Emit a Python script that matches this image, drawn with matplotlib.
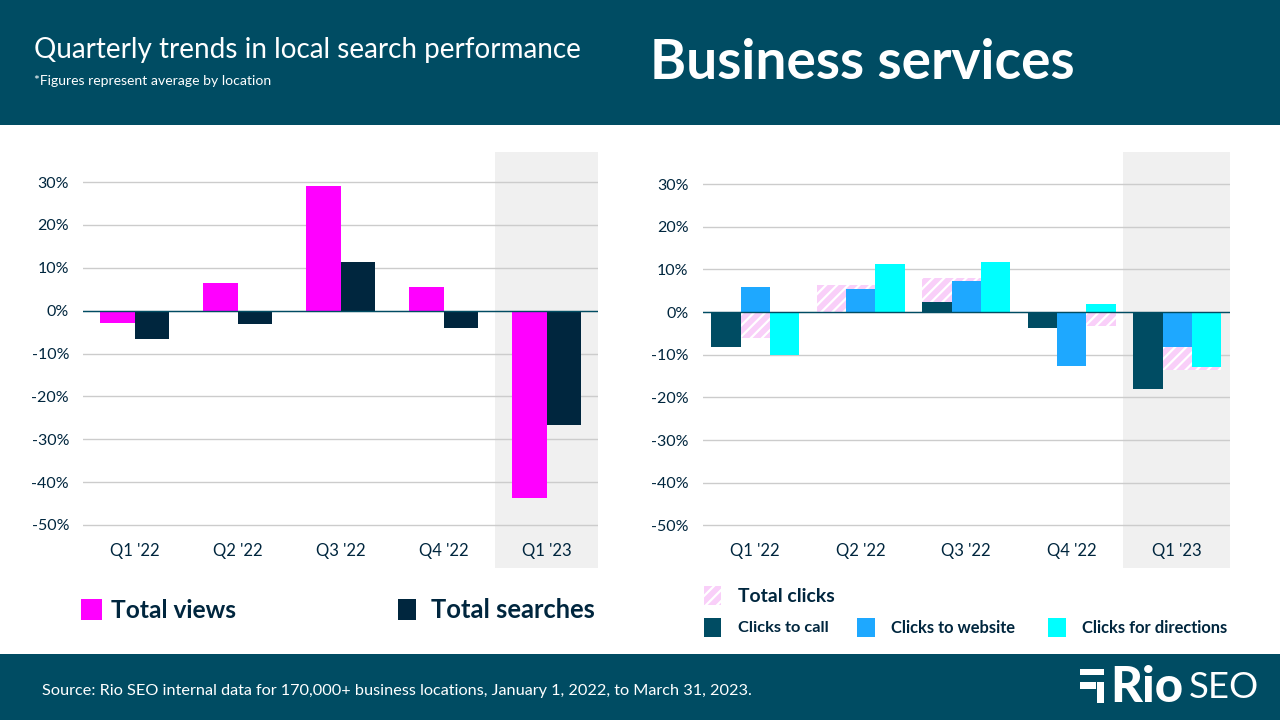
import matplotlib
matplotlib.use("Agg")
import matplotlib.pyplot as plt
from matplotlib.patches import Rectangle
import numpy as np

quarters = ["Q1 '22", "Q2 '22", "Q3 '22", "Q4 '22", "Q1 '23"]
y_ticks = [30, 20, 10, 0, -10, -20, -30, -40, -50]
total_views = [-2.9, 6.5, 29.1, 5.6, -43.6]
total_searches = [-6.6, -3.1, 11.3, -4.0, -26.6]
total_clicks = [-6.0, 6.4, 8.0, -3.2, -13.5]
clicks_call = [-8.1, -0.3, 2.4, -3.7, -18.1]
clicks_website = [5.9, 5.4, 7.3, -12.7, -8.3]
clicks_directions = [-10.1, 11.3, 11.8, 1.9, -12.9]

TEAL = "#004C63"; NAVY = "#00263E"; PINK = "#FF00FF"; BLUE = "#1EA8FF"; CYAN = "#00FFFF"
HATCH_BG = "#F9CFF9"; BAND = "#F0F0F0"; GRID = "#CCCCCC"; TXT = "#00263E"
FONT = "Lato"
W, H = 1280, 720
plt.rcParams["font.family"] = [FONT, "DejaVu Sans"]
plt.rcParams["hatch.linewidth"] = 1.6

fig = plt.figure(figsize=(12.8, 7.2), dpi=100, facecolor="white")

def fx(x): return x / W
def fy(y): return 1 - y / H

def box(x0, y0, x1, y1, color, **kw):
    r = Rectangle((fx(x0), fy(y1)), (x1 - x0) / W, (y1 - y0) / H, transform=fig.transFigure,
                  facecolor=color, linewidth=0, **kw)
    fig.add_artist(r)
    return r

def label(x, y, s, width=None, size=12, color=TXT, weight="normal", ha="left"):
    t = fig.text(fx(x), fy(y), s, fontsize=size, color=color, fontweight=weight, ha=ha, va="center")
    if width:
        r = fig.canvas.get_renderer()
        t.set_fontsize(size * width / t.get_window_extent(r).width)
    return t

box(0, 0, W, 125, TEAL)
box(0, 654, W, H, TEAL)

def make_axes(x0, x1, y0, y1, ylim, band_start):
    ax = fig.add_axes([fx(x0), fy(y1), (x1 - x0) / W, (y1 - y0) / H])
    ax.set_xlim(-0.5, 4.5)
    ax.set_ylim(*ylim)
    for s in ax.spines.values():
        s.set_visible(False)
    ax.axvspan(band_start, 4.5, color=BAND, lw=0, zorder=0)
    ax.set_yticks(y_ticks)
    ax.set_yticklabels([f"{v}%" for v in y_ticks])
    ax.set_xticks(range(5))
    ax.set_xticklabels(quarters)
    ax.yaxis.grid(True, color=GRID, lw=1, zorder=1)
    ax.set_axisbelow(True)
    ax.tick_params(axis="both", length=0, labelcolor=TXT)
    ax.tick_params(axis="y", pad=10, labelsize=11.5)
    ax.tick_params(axis="x", pad=-18, labelsize=12)
    ax.patch.set_alpha(0)
    return ax

x = np.arange(5)

# left panel
ax1 = make_axes(83, 598, 152, 568, (-60.03, 37.0), 3.5)
bw = 0.335
ax1.bar(x - bw / 2, total_views, bw, color=PINK, lw=0, zorder=3)
ax1.bar(x + bw / 2, total_searches, bw, color=NAVY, lw=0, zorder=3)
ax1.axhline(0, color=TEAL, lw=1, zorder=4)

# right panel
ax2 = make_axes(702.5, 1230, 152, 568, (-60.0, 37.5), 3.49)
bw2 = 0.278
ax2.bar(x, total_clicks, bw2 * 3, facecolor=HATCH_BG, edgecolor="white", hatch="///", lw=0, zorder=2)
ax2.bar(x - bw2, clicks_call, bw2, color=TEAL, lw=0, zorder=3)
ax2.bar(x, clicks_website, bw2, color=BLUE, lw=0, zorder=3)
ax2.bar(x + bw2, clicks_directions, bw2, color=CYAN, lw=0, zorder=3)
ax2.axhline(0, color=TEAL, lw=1, zorder=4)

# header / footer text
label(34, 50, "Quarterly trends in local search performance", 547, 19, "white")
label(34, 81, "*Figures represent average by location", 238, 9.5, "white")
label(650, 63, "Business services", 424, 36, "white", "bold")
label(42, 691, "Source: Rio SEO internal data for 170,000+ business locations, January 1, 2022, to March 31, 2023.", 709, 11, "white")

# legends
box(81, 599, 102, 620, PINK)
label(111, 610, "Total views", 125, 17, weight="bold")
box(398, 599, 416, 620, NAVY)
label(431, 610, "Total searches", 164, 17, weight="bold")

fig.add_artist(Rectangle((fx(704), fy(605)), 17 / W, 19 / H, transform=fig.transFigure,
                         facecolor=HATCH_BG, edgecolor="white", hatch="///", linewidth=0))
label(738, 597, "Total clicks", 97, 12.5, weight="bold")
box(704, 618, 721, 637, TEAL)
label(738, 628, "Clicks to call", 91, 11.5, weight="bold")
box(857, 618, 875, 637, BLUE)
label(891, 628, "Clicks to website", 125, 11.5, weight="bold")
box(1048, 618, 1066, 637, CYAN)
label(1082, 628, "Clicks for directions", 146, 11.5, weight="bold")

# logo
box(1080, 669, 1104, 675, "white")
box(1080, 682, 1096, 689, "white")
box(1097, 682, 1104, 703, "white")
label(1110, 687, "Rio", 73, 33, "white", "black")
label(1189, 687, "SEO", 70, 30, "white", "normal")

fig.savefig("out.png", dpi=100, facecolor="white")
